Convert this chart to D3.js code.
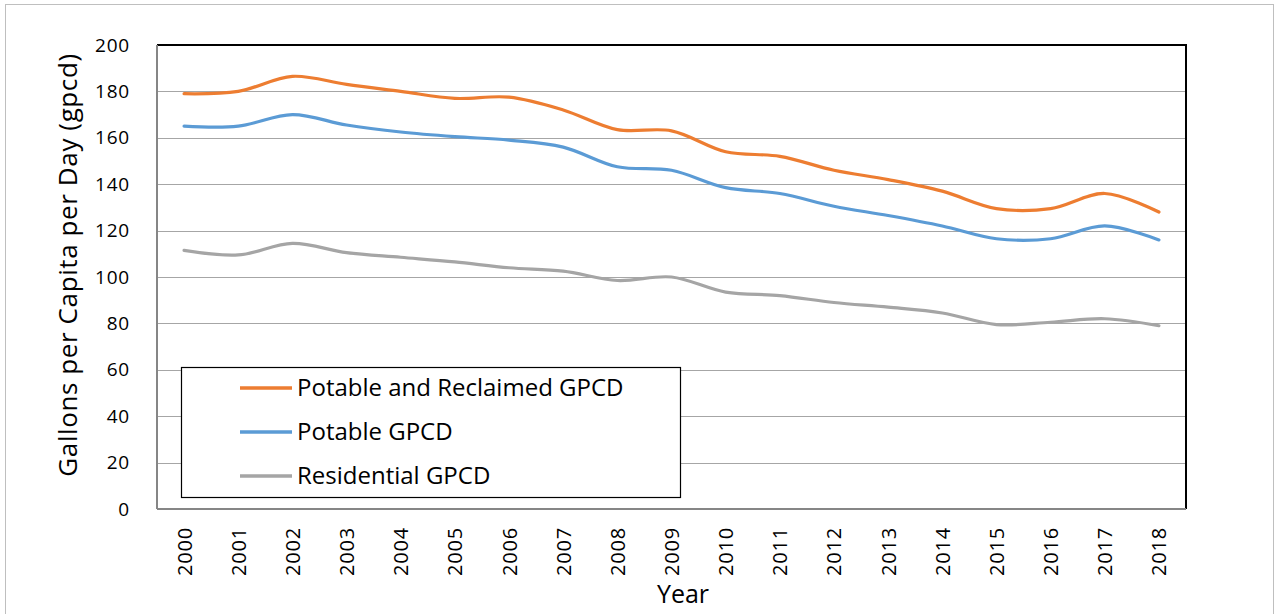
<!DOCTYPE html>
<html>
<head>
<meta charset="utf-8">
<script src="https://cdn.jsdelivr.net/npm/d3@7"></script>
<style>
    body { margin: 0; background: #fff; }
    text { font-family: "Open Sans", sans-serif; fill: #000; }
</style>
</head>
<body>
<script>
var years = ["2000", "2001", "2002", "2003", "2004", "2005", "2006", "2007", "2008", "2009",
    "2010", "2011", "2012", "2013", "2014", "2015", "2016", "2017", "2018"];

var potableReclaimed = [179, 180, 186.5, 183, 180, 177, 177.5, 172, 163.5, 163,
    154, 152, 146, 142, 137, 129.5, 129.5, 136, 128];
var potable = [165, 165, 170, 165.5, 162.5, 160.5, 159, 156, 147.5, 146,
    138.5, 136, 130.5, 126.5, 122, 116.5, 116.5, 122, 116];
var residential = [111.5, 109.5, 114.5, 110.5, 108.5, 106.5, 104, 102.5, 98.5, 100,
    93.5, 92, 89, 87, 84.5, 79.5, 80.5, 82, 79];

var seriesNames = ["Potable and Reclaimed GPCD", "Potable GPCD", "Residential GPCD"];
var seriesColors = ["#ED7D31", "#5B9BD5", "#A5A5A5"];
var yTicks = [0, 20, 40, 60, 80, 100, 120, 140, 160, 180, 200];

var series = [potableReclaimed, potable, residential].map(function(values, i) {
    return { name: seriesNames[i], color: seriesColors[i], values: values };
});

var width = 1275,
    height = 614;

var plot = { left: 157, top: 45, right: 1186, bottom: 509 };

var svg = d3.select("body").append("svg")
    .attr("width", width)
    .attr("height", height);

// outer chart border
svg.append("rect")
    .attr("x", 5.5)
    .attr("y", 4.5)
    .attr("width", 1268)
    .attr("height", 620)
    .attr("fill", "#fff")
    .attr("stroke", "#bfbfbf");

var x = d3.scalePoint()
    .domain(years)
    .range([plot.left, plot.right])
    .padding(0.5);

var y = d3.scaleLinear()
    .domain([0, 200])
    .range([plot.bottom, plot.top]);

// gridlines
svg.append("g").selectAll("line")
    .data(yTicks.filter(function(d) { return d > 0 && d < 200; }))
    .enter().append("line")
    .attr("x1", plot.left)
    .attr("x2", plot.right)
    .attr("y1", function(d) { return Math.round(y(d)) + 0.5; })
    .attr("y2", function(d) { return Math.round(y(d)) + 0.5; })
    .attr("stroke", "#a6a6a6")
    .attr("stroke-width", 1);

// frame: top and right black, left and bottom gray
svg.append("line")
    .attr("x1", plot.left).attr("x2", plot.right + 1)
    .attr("y1", plot.top).attr("y2", plot.top)
    .attr("stroke", "#000").attr("stroke-width", 2);
svg.append("line")
    .attr("x1", plot.right).attr("x2", plot.right)
    .attr("y1", plot.top).attr("y2", plot.bottom)
    .attr("stroke", "#000").attr("stroke-width", 2);
svg.append("line")
    .attr("x1", plot.left).attr("x2", plot.left)
    .attr("y1", plot.top).attr("y2", plot.bottom)
    .attr("stroke", "#868686").attr("stroke-width", 2);
svg.append("line")
    .attr("x1", plot.left).attr("x2", plot.right)
    .attr("y1", plot.bottom).attr("y2", plot.bottom)
    .attr("stroke", "#868686").attr("stroke-width", 2);

// y axis labels
var yAxis = d3.axisLeft(y).tickValues(yTicks).tickSize(0).tickPadding(27);
svg.append("g")
    .attr("transform", "translate(" + plot.left + ",0)")
    .call(yAxis)
    .call(function(g) { g.select(".domain").remove(); })
    .selectAll("text")
    .style("font-size", "19px")
    .style("letter-spacing", "0.8px")
    .style("font-family", "'Open Sans', sans-serif")
    .attr("fill", "#000");

// x axis labels, rotated
var xAxis = d3.axisBottom(x).tickSize(0);
var xg = svg.append("g")
    .attr("transform", "translate(0," + plot.bottom + ")")
    .call(xAxis);
xg.select(".domain").remove();
xg.selectAll("text")
    .style("font-size", "20px")
    .style("letter-spacing", "0.8px")
    .style("font-family", "'Open Sans', sans-serif")
    .attr("fill", "#000")
    .attr("text-anchor", "end")
    .attr("dy", "0.35em")
    .attr("transform", "translate(0,18) rotate(-90)")
    .attr("x", 0)
    .attr("y", 0);

// axis titles
svg.append("text")
    .attr("transform", "translate(77,265) rotate(-90)")
    .attr("text-anchor", "middle")
    .style("font-size", "26px")
    .style("letter-spacing", "0.6px")
    .text("Gallons per Capita per Day (gpcd)");

svg.append("text")
    .attr("x", 683)
    .attr("y", 603)
    .attr("text-anchor", "middle")
    .style("font-size", "25px")
    .text("Year");

// legend box
var legend = svg.append("g");
legend.append("rect")
    .attr("x", 181.5)
    .attr("y", 367.5)
    .attr("width", 499)
    .attr("height", 130)
    .attr("fill", "#fff")
    .attr("stroke", "#000")
    .attr("stroke-width", 1.2);

var legendRows = legend.selectAll(".legend-row")
    .data(series)
    .enter().append("g")
    .attr("class", "legend-row")
    .attr("transform", function(d, i) {
        return "translate(240," + (388 + i * 44) + ")";
    });

legendRows.append("line")
    .attr("x1", 0)
    .attr("x2", 52)
    .attr("stroke", function(d) { return d.color; })
    .attr("stroke-width", 3.5);

legendRows.append("text")
    .attr("x", 57)
    .attr("dy", "0.35em")
    .style("font-size", "24px")
    .text(function(d) { return d.name; });

// series lines
var line = d3.line()
    .x(function(d, i) { return x(years[i]); })
    .y(function(d) { return y(d); })
    .curve(d3.curveCatmullRom.alpha(0.5));

svg.append("g").selectAll("path")
    .data(series)
    .enter().append("path")
    .attr("d", function(d) { return line(d.values); })
    .attr("fill", "none")
    .attr("stroke", function(d) { return d.color; })
    .attr("stroke-width", 3.2)
    .attr("stroke-linecap", "round");
</script>
</body>
</html>
